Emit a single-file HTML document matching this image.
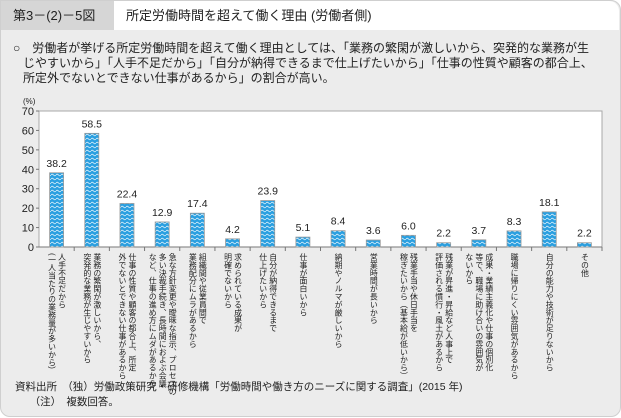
<!DOCTYPE html>
<html><head><meta charset="utf-8">
<style>
body{margin:0;width:621px;height:417px;overflow:hidden;background:#fff;font-family:"Liberation Sans","Noto Sans CJK JP",sans-serif;}
#card{position:absolute;left:0;top:0;width:619px;height:415px;background:#ececec;border:1px solid #cfcfcf;border-radius:0 10px 10px 10px;}
#fig{position:absolute;left:0;top:0;width:113px;height:29px;background:#d6d6d6;font-size:13px;line-height:29px;padding-left:12px;box-sizing:border-box;color:#222}
#title{position:absolute;left:113px;top:0;width:505px;height:29px;background:#fff;font-size:13px;line-height:29px;padding-left:12px;box-sizing:border-box;border-radius:0 10px 0 0;color:#222}
#lead{position:absolute;left:12px;top:40px;width:600px;font-size:12px;line-height:15px;color:#222}
.lab{position:absolute;top:252px;writing-mode:vertical-rl;font-size:7.9px;line-height:10px;color:#222;white-space:nowrap;letter-spacing:0}
#src{position:absolute;left:14px;top:379px;font-size:10.5px;line-height:15px;color:#222}
</style></head><body>
<div id="card">
<div id="fig">第3－(2)－5図</div>
<div id="title">所定労働時間を超えて働く理由 (労働者側)</div>
<div id="lead">○　労働者が挙げる所定労働時間を超えて働く理由としては、「業務の繁閑が激しいから、突発的な業務が生<br>&nbsp;&nbsp;&nbsp;じやすいから」「人手不足だから」「自分が納得できるまで仕上げたいから」「仕事の性質や顧客の都合上、<br>&nbsp;&nbsp;&nbsp;所定外でないとできない仕事があるから」の割合が高い。</div>
<svg id="chart" width="621" height="417" style="position:absolute;left:0;top:0">
<defs><pattern id="pat" width="5" height="4" patternUnits="userSpaceOnUse"><rect width="5" height="4" fill="#2a9fe0"/><path d="M0 2 Q1.25 0.5 2.5 2 T5 2" stroke="#cfeaf8" stroke-width="0.9" fill="none"/></pattern></defs>
</svg>
<div id="labels"></div>
<div id="src">資料出所　（独）労働政策研究・研修機構「労働時間や働き方のニーズに関する調査」(2015 年)<br>&nbsp;&nbsp;&nbsp;&nbsp;&nbsp;（注）　複数回答。</div>
</div>
<script>
const categories=["人手不足だから\n(一人当たりの業務量が多いから)","業務の繁閑が激しいから、\n突発的な業務が生じやすいから","仕事の性質や顧客の都合上、所定\n外でないとできない仕事があるから","急な方針変更や曖昧な指示、プロセスの\n多い決裁手続き、長時間におよぶ会議\nなど、仕事の進め方にムダがあるから","組織間や従業員間で\n業務配分にムラがあるから","求められている成果が\n明確でないから","自分が納得できるまで\n仕上げたいから","仕事が面白いから","納期やノルマが厳しいから","営業時間が長いから","残業手当や休日手当を\n稼ぎたいから（基本給が低いから）","残業が昇進・昇給など人事上で\n評価される慣行・風土があるから","成果・業績主義化や仕事の個別化\n等で、職場に助け合いの雰囲気が\nないから","職場に帰りにくい雰囲気があるから","自分の能力や技術が足りないから","その他"];
const values=[38.2,58.5,22.4,12.9,17.4,4.2,23.9,5.1,8.4,3.6,6.0,2.2,3.7,8.3,18.1,2.2];
const yTicks=[0,10,20,30,40,50,60,70];
const L=38,R=601,T=110,B=246,YMAX=70;
const NS="http://www.w3.org/2000/svg";
const svg=document.getElementById('chart');
const step=(R-L)/values.length;
const x=i=>L+step*(i+0.5);
const y=v=>B-(v/YMAX)*(B-T);
function mk(t,a){const e=document.createElementNS(NS,t);for(const k in a)e.setAttribute(k,a[k]);svg.appendChild(e);return e;}
const bg=mk('rect',{x:L,y:T,width:R-L,height:B-T,fill:'#fff',stroke:'#a8a8a8','stroke-width':1});


yTicks.forEach(v=>{
 const t=mk('text',{x:L-5,y:y(v)+4,'text-anchor':'end','font-size':11,fill:'#222'});
 t.textContent=v;
 
 
 mk('line',{x1:L-3,x2:L,y1:y(v),y2:y(v),stroke:'#777'});
});
const u=mk('text',{x:22,y:103,'font-size':8,fill:'#222'});u.textContent='(%)';


mk('line',{x1:L,x2:R,y1:B,y2:B,stroke:'#777'});
values.forEach((v,i)=>{
 const r=mk('rect',{x:x(i)-7,y:y(v),width:14,height:B-y(v),fill:'url(#pat)',stroke:'#9a9a9a','stroke-width':0.8});
 
 
 const t=mk('text',{x:x(i),y:y(v)-6,'text-anchor':'middle','font-size':10.5,fill:'#222'});
 t.textContent=v.toFixed(1);
 
 
 mk('line',{x1:L+step*(i+1),x2:L+step*(i+1),y1:B,y2:B+4,stroke:'#777'});
});
const lab=document.getElementById('labels');
categories.forEach((c,i)=>{
 const d=document.createElement('div');
 d.className='lab';
 
 
 d.innerHTML=c.split('\n').join('<br>');
 lab.appendChild(d);
 d.style.left=(x(i)-d.offsetWidth/2)+'px';
});
</script>
</body></html>
